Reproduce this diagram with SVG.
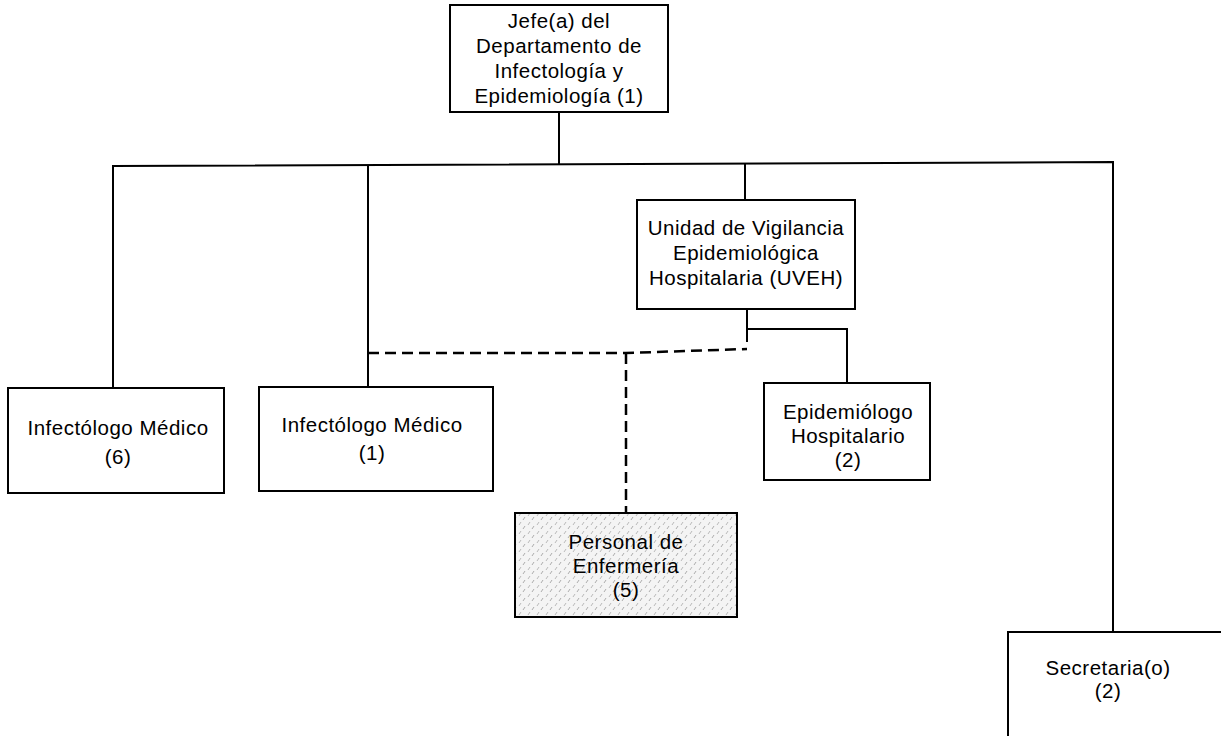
<svg xmlns="http://www.w3.org/2000/svg" width="1221" height="736" viewBox="0 0 1221 736">
<style>
.box{fill:#fff;stroke:#000;stroke-width:2}
.t{font-family:"Liberation Sans",Arial,sans-serif;font-size:20.5px;fill:#000;text-anchor:middle;letter-spacing:0.5px}
.c{fill:none;stroke:#000;stroke-width:2}
.d{fill:none;stroke:#000;stroke-width:2.5;stroke-dasharray:11 6}
</style>
<defs>
<pattern id="hatch" width="9" height="9" patternUnits="userSpaceOnUse">
<rect width="9" height="9" fill="#f4f4f4"/>
<line x1="1" y1="7" x2="3" y2="4" stroke="#999" stroke-width="0.8"/>
<line x1="6" y1="3" x2="8" y2="0" stroke="#aaa" stroke-width="0.8"/>
</pattern>
</defs>
<rect width="1221" height="736" fill="#fff"/>
<g id="connectors">
<line class="c" x1="559" y1="112" x2="559" y2="165"/>
<polyline class="c" points="113,388 113,166 1113,162 1113,632"/>
<line class="c" x1="368" y1="166" x2="368" y2="387"/>
<line class="c" x1="745" y1="164" x2="745" y2="200"/>
<line class="c" x1="747" y1="309" x2="747" y2="342"/>
<polyline class="c" points="747,329 847,329 847,383"/>
<polyline class="d" points="368,353 626,353 747,349"/>
<line class="d" x1="626" y1="353" x2="626" y2="513"/>
</g>
<g id="jefe">
<rect class="box" x="450" y="5" width="218" height="107"/>
<text class="t" x="559" y="28">Jefe(a) del</text>
<text class="t" x="559" y="53">Departamento de</text>
<text class="t" x="559" y="78">Infectología y</text>
<text class="t" x="559" y="103">Epidemiología (1)</text>
</g>
<g id="uveh">
<rect class="box" x="637" y="200" width="218" height="109"/>
<text class="t" x="746" y="235">Unidad de Vigilancia</text>
<text class="t" x="746" y="260">Epidemiológica</text>
<text class="t" x="746" y="285">Hospitalaria (UVEH)</text>
</g>
<g id="infectologo6">
<rect class="box" x="8" y="388" width="216" height="105"/>
<text class="t" x="118" y="435">Infectólogo Médico</text>
<text class="t" x="118" y="464">(6)</text>
</g>
<g id="infectologo1">
<rect class="box" x="259" y="387" width="234" height="104"/>
<text class="t" x="372" y="432">Infectólogo Médico</text>
<text class="t" x="372" y="460">(1)</text>
</g>
<g id="epidemiologo">
<rect class="box" x="764" y="383" width="166" height="97"/>
<text class="t" x="848" y="419">Epidemiólogo</text>
<text class="t" x="848" y="443">Hospitalario</text>
<text class="t" x="848" y="467">(2)</text>
</g>
<g id="enfermeria">
<rect x="515" y="513" width="222" height="104" fill="url(#hatch)" stroke="#000" stroke-width="2"/>
<text class="t" x="626" y="549">Personal de</text>
<text class="t" x="626" y="573">Enfermería</text>
<text class="t" x="626" y="597">(5)</text>
</g>
<g id="secretaria">
<rect class="box" x="1008" y="632" width="220" height="110"/>
<text class="t" x="1108" y="675">Secretaria(o)</text>
<text class="t" x="1108" y="698">(2)</text>
</g>
</svg>
